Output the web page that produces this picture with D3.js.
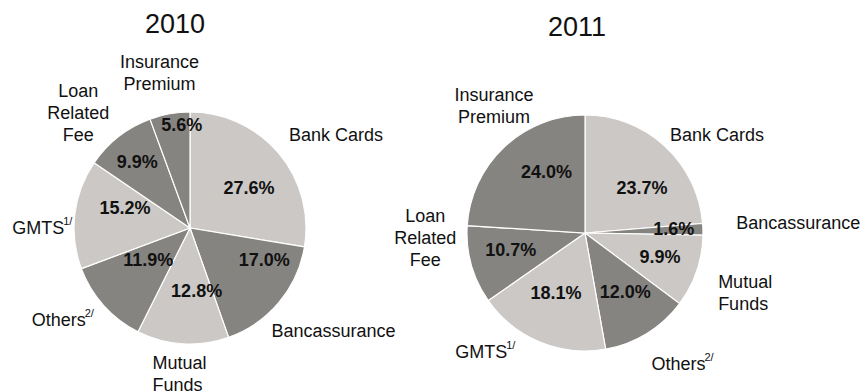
<!DOCTYPE html>
<html>
<head>
<meta charset="utf-8">
<script src="https://cdn.jsdelivr.net/npm/d3@7"></script>
<style>
  body { margin: 0; background: #fff; }
  svg { display: block; font-family: "Liberation Sans", Arial, sans-serif; }
</style>
</head>
<body>
<div id="chart"></div>
<script>
  // categories, clockwise from 12 o'clock
  var categories = ['Bank Cards', 'Bancassurance', 'Mutual Funds', 'Others', 'GMTS', 'Loan Related Fee', 'Insurance Premium'];
  var years = ['2010', '2011'];
  var values2010 = [27.6, 17.0, 12.8, 11.9, 15.2, 9.9, 5.6];
  var values2011 = [23.7, 1.6, 9.9, 12.0, 18.1, 10.7, 24.0];
  var shades = ['light', 'dark', 'light', 'dark', 'light', 'dark', 'dark'];
  var footnotes = ['', '', '', '2/', '1/', '', ''];
  var labelLines = [['Bank Cards'], ['Bancassurance'], ['Mutual', 'Funds'], ['Others'], ['GMTS'], ['Loan', 'Related', 'Fee'], ['Insurance', 'Premium']];

  var width = 864, height = 392;
  var color = d3.scaleOrdinal().domain(['light', 'dark']).range(['#cbc8c5', '#868480']);

  // layout of the two pies, hand tuned to the original
  var pies = [
    { year: years[0], values: values2010, cx: 190, cy: 228, r: 116, titleDx: -15, titleY: 24,
      anchors: ['middle', 'middle', 'start', 'middle', 'middle', 'middle', 'middle'],
      pctNudge: [[6, 5], [21, -13], [11, -6], [10, -15], [4, -12], [-10, -11], [4, -34]],
      catNudge: [[31, 5], [28, 6], [-28, -5], [-15, -9], [2, 18], [-19, 4], [-4, -7]] },
    { year: years[1], values: values2011, cx: 585, cy: 233, r: 118, titleDx: -8, titleY: 27,
      anchors: ['middle', 'middle', 'start', 'middle', 'middle', 'middle', 'middle'],
      pctNudge: [[9, 7], [18, -2], [8, 1], [3, -1], [-2, -5], [-6, -2], [10, -9]],
      catNudge: [[28, 15], [60, -5], [-12, 10], [17, 0], [-41, -23], [-12, -36], [14, -15]] }
  ];

  var svg = d3.select('#chart').append('svg')
    .attr('width', width)
    .attr('height', height);

  var pie = d3.pie().sort(null).value(function(d) { return d.value; });
  var lineHeight = 22;

  pies.forEach(function(p) {
    var rows = categories.map(function(c, i) {
      return { name: c, value: p.values[i], shade: shades[i], i: i };
    });
    var arcs = pie(rows);
    var arc = d3.arc().innerRadius(0).outerRadius(p.r);
    var pctArc = d3.arc().innerRadius(p.r * 0.6).outerRadius(p.r * 0.6);
    var catArc = d3.arc().innerRadius(p.r * 1.3).outerRadius(p.r * 1.3);

    var g = svg.append('g').attr('transform', 'translate(' + p.cx + ',' + p.cy + ')');

    g.append('text')
      .attr('x', p.titleDx)
      .attr('y', p.titleY - p.cy)
      .attr('text-anchor', 'middle')
      .attr('dominant-baseline', 'central')
      .style('font-size', '27px')
      .style('fill', '#111')
      .text(p.year);

    g.selectAll('path.slice')
      .data(arcs)
      .enter()
      .append('path')
      .attr('class', 'slice')
      .attr('d', arc)
      .style('fill', function(d) { return color(d.data.shade); })
      .style('stroke', '#fff')
      .style('stroke-width', 1.2);

    // percentages inside the slices
    g.selectAll('text.pct')
      .data(arcs)
      .enter()
      .append('text')
      .attr('class', 'pct')
      .attr('transform', function(d) {
        var c = pctArc.centroid(d), n = p.pctNudge[d.data.i];
        return 'translate(' + (c[0] + n[0]) + ',' + (c[1] + n[1]) + ')';
      })
      .attr('text-anchor', 'middle')
      .attr('dominant-baseline', 'central')
      .style('font-size', '18px')
      .style('font-weight', 'bold')
      .style('fill', '#111')
      .text(function(d) { return d.data.value.toFixed(1) + '%'; });

    // category names outside
    var cats = g.selectAll('text.cat')
      .data(arcs)
      .enter()
      .append('text')
      .attr('class', 'cat')
      .attr('transform', function(d) {
        var c = catArc.centroid(d), n = p.catNudge[d.data.i];
        return 'translate(' + (c[0] + n[0]) + ',' + (c[1] + n[1]) + ')';
      })
      .attr('text-anchor', function(d) { return p.anchors[d.data.i]; })
      .style('font-size', '18px')
      .style('fill', '#111');

    cats.each(function(d) {
      var t = d3.select(this);
      var lines = labelLines[d.data.i];
      lines.forEach(function(line, k) {
        t.append('tspan')
          .attr('x', 0)
          .attr('y', (k - (lines.length - 1) / 2) * lineHeight)
          .attr('dominant-baseline', 'central')
          .text(line);
      });
      // footnote marker, raised like a superscript
      if (footnotes[d.data.i]) {
        t.append('tspan')
          .attr('dx', -1)
          .attr('dy', -7)
          .attr('dominant-baseline', 'central')
          .style('font-size', '11px')
          .text(footnotes[d.data.i]);
      }
    });
  });
</script>
</body>
</html>
